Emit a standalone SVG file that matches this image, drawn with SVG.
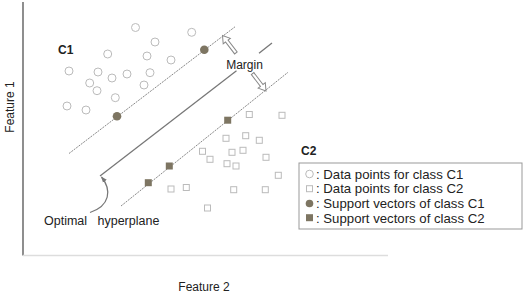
<svg xmlns="http://www.w3.org/2000/svg" width="524" height="295" viewBox="0 0 524 295">
<defs>
<style>
text{font-family:"Liberation Sans",Arial,sans-serif;font-size:12px;fill:#222}
.b{font-weight:bold}
.lg{font-size:13.2px}
.c{fill:#fff;stroke:#bbb;stroke-width:1}
.s{fill:#fff;stroke:#bbb;stroke-width:1}
.sv{fill:#7d7562;stroke:none}
.m{stroke:#888;stroke-width:1;stroke-dasharray:2 1;fill:none}
.h{stroke:#777;stroke-width:1.3;fill:none}
.ha{fill:#fff;stroke:#888;stroke-width:1}
</style>
<polygon id="harrow" points="0,0 -7,-4.5 -7,-1.6 -22,-1.6 -22,1.6 -7,1.6 -7,4.5" class="ha"/>
<rect id="sq" x="-3" y="-3" width="6" height="6" class="s"/>
<rect id="fsq" x="-3.5" y="-3.5" width="7" height="7" class="sv"/>
<marker id="ah" viewBox="0 0 10 10" refX="9" refY="5" markerWidth="5" markerHeight="5" orient="auto">
<path d="M0,1 L10,5 L0,9 z" fill="#777"/>
</marker>
</defs>
<rect width="524" height="295" fill="#fff"/>
<g id="axes">
<line x1="23" y1="2" x2="23" y2="255.5" stroke="#444" stroke-width="1.2"/>
<line x1="23" y1="255.5" x2="388" y2="255.5" stroke="#ddd" stroke-width="1.5"/>
<text x="204" y="291" text-anchor="middle">Feature 2</text>
<text transform="translate(14,107) rotate(-90)" text-anchor="middle">Feature 1</text>
</g>
<g id="class-c1">
<text x="58" y="53.5" class="b">C1</text>
<circle cx="135.5" cy="27.5" r="4" class="c"/>
<circle cx="191.7" cy="32.3" r="4" class="c"/>
<circle cx="155" cy="42" r="4" class="c"/>
<circle cx="107.7" cy="54" r="4" class="c"/>
<circle cx="147" cy="56" r="4" class="c"/>
<circle cx="171" cy="60" r="4" class="c"/>
<circle cx="69" cy="71" r="4" class="c"/>
<circle cx="98" cy="72" r="4" class="c"/>
<circle cx="127" cy="74" r="4" class="c"/>
<circle cx="150" cy="72.7" r="4" class="c"/>
<circle cx="112" cy="78" r="4" class="c"/>
<circle cx="89.7" cy="83" r="4" class="c"/>
<circle cx="144" cy="85" r="4" class="c"/>
<circle cx="97" cy="90.7" r="4" class="c"/>
<circle cx="115.3" cy="97.7" r="4" class="c"/>
<circle cx="67" cy="106" r="4" class="c"/>
<circle cx="86" cy="110" r="4" class="c"/>
</g>
<g id="class-c2">
<use href="#sq" x="249.3" y="114.5"/>
<use href="#sq" x="282" y="115.3"/>
<use href="#sq" x="226" y="138.3"/>
<use href="#sq" x="245.7" y="135.7"/>
<use href="#sq" x="259.3" y="140.3"/>
<use href="#sq" x="202.5" y="151.3"/>
<use href="#sq" x="210" y="159.3"/>
<use href="#sq" x="232" y="152.3"/>
<use href="#sq" x="243" y="150.3"/>
<use href="#sq" x="266" y="157.3"/>
<use href="#sq" x="227" y="163.7"/>
<use href="#sq" x="236" y="166"/>
<use href="#sq" x="278.3" y="175.3"/>
<use href="#sq" x="171" y="189"/>
<use href="#sq" x="186.3" y="187.5"/>
<use href="#sq" x="233.7" y="189.7"/>
<use href="#sq" x="265.3" y="189.7"/>
<use href="#sq" x="207.5" y="208"/>
</g>
<g id="connectors">
<line x1="69" y1="153.5" x2="235" y2="26.8" class="m"/>
<line x1="121" y1="206" x2="288" y2="72.3" class="m"/>
<line x1="100" y1="176" x2="236.5" y2="70.7" class="h"/>
<line x1="259" y1="53.3" x2="272" y2="43" class="h"/>
<path d="M90,212.5 C110,206 112,190 101.5,177" fill="none" stroke="#777" stroke-width="1.2" marker-end="url(#ah)"/>
<use href="#harrow" transform="translate(222.5,35.5) rotate(-127.5)"/>
<use href="#harrow" transform="translate(266,91) rotate(52.5)"/>
</g>
<g id="support-vectors">
<circle cx="117" cy="116.3" r="4.3" class="sv"/>
<circle cx="204.3" cy="49.7" r="4.3" class="sv"/>
<use href="#fsq" x="227.7" y="120.2"/>
<use href="#fsq" x="169.3" y="166"/>
<use href="#fsq" x="148.3" y="182.7"/>
</g>
<g id="labels">
<text x="244.5" y="68.5" text-anchor="middle">Margin</text>
<text x="44" y="224.5" style="font-size:12.5px">Optimal</text>
<text x="97.5" y="224.5" style="font-size:12.5px">hyperplane</text>
</g>
<g id="legend">
<text x="301" y="154.5" class="b">C2</text>
<rect x="299" y="163" width="223" height="66" fill="#fff" stroke="#999" stroke-width="1"/>
<circle cx="309.5" cy="174" r="3.8" class="c"/>
<use href="#sq" x="309.5" y="188.7"/>
<circle cx="309.5" cy="203.5" r="3.8" class="sv"/>
<use href="#fsq" x="309.5" y="217.7"/>
<text x="316" y="178.5" class="lg">: Data points for class C1</text>
<text x="316" y="193.2" class="lg">: Data points for class C2</text>
<text x="316" y="208" class="lg">: Support vectors of class C1</text>
<text x="316" y="222.5" class="lg">: Support vectors of class C2</text>
</g>
</svg>
